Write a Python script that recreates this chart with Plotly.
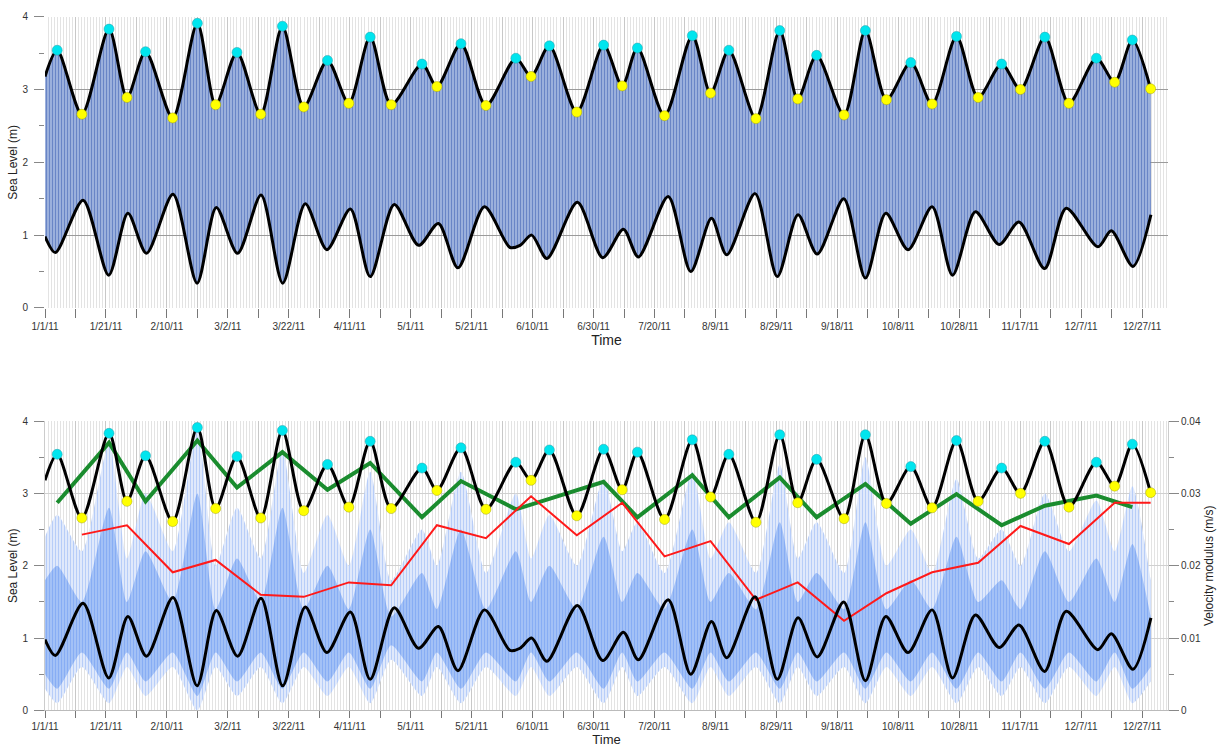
import pandas as pd
import plotly.graph_objects as go

BASE = pd.Timestamp("2011-01-01")

# ---------------- data (days since 1/1/11) ----------------
spring_days = [4.0, 21.0, 33.0, 50.0, 63.0, 77.9, 92.7, 106.7, 123.7, 136.5, 154.5, 165.5, 183.3,
               194.4, 212.4, 224.4, 241.1, 253.2, 269.2, 284.1, 299.1, 313.9, 328.1, 345.0, 356.8]
spring_levels = [3.54, 3.83, 3.52, 3.91, 3.51, 3.87, 3.40, 3.72, 3.35, 3.63, 3.43, 3.60, 3.61,
                 3.57, 3.74, 3.54, 3.81, 3.47, 3.81, 3.37, 3.73, 3.35, 3.72, 3.43, 3.68]
neap_days = [12.1, 26.9, 41.9, 56.0, 70.8, 84.9, 99.7, 113.6, 128.6, 144.7, 159.5, 174.5, 189.4,
             203.3, 218.4, 233.3, 247.0, 262.2, 276.1, 291.1, 306.2, 320.1, 336.0, 351.0, 362.8]
neap_levels = [2.66, 2.89, 2.61, 2.79, 2.66, 2.76, 2.81, 2.79, 3.04, 2.78, 3.18, 2.69, 3.05,
               2.64, 2.95, 2.60, 2.87, 2.65, 2.86, 2.80, 2.89, 3.00, 2.81, 3.10, 3.01]

upper_env_days = [0, 4.0, 12.1, 21.0, 26.9, 33.0, 41.9, 50.0, 56.0, 63.0, 70.8, 77.9, 84.9, 92.7,
                  99.7, 106.7, 113.6, 123.7, 128.6, 136.5, 144.7, 154.5, 159.5, 165.5, 174.5, 183.3,
                  189.4, 194.4, 203.3, 212.4, 218.4, 224.4, 233.3, 241.1, 247.0, 253.2, 262.2, 269.2,
                  276.1, 284.1, 291.1, 299.1, 306.2, 313.9, 320.1, 328.1, 336.0, 345.0, 351.0, 356.8, 362.8]
upper_env_vals = [3.18, 3.54, 2.66, 3.83, 2.89, 3.52, 2.61, 3.91, 2.79, 3.51, 2.66, 3.87, 2.76, 3.40,
                  2.81, 3.72, 2.79, 3.35, 3.04, 3.63, 2.78, 3.43, 3.18, 3.60, 2.69, 3.61,
                  3.05, 3.57, 2.64, 3.74, 2.95, 3.54, 2.60, 3.81, 2.87, 3.47, 2.65, 3.81,
                  2.86, 3.37, 2.80, 3.73, 2.89, 3.35, 3.00, 3.72, 2.81, 3.43, 3.10, 3.68, 3.01]

lower_env_days = [0, 3.4, 12.5, 20.9, 27.2, 33.3, 42.0, 49.9, 56.2, 63.2, 70.9, 78.0, 85.4, 92.5,
                  100.2, 106.7, 114.6, 122.6, 129.1, 135.5, 144.2, 152.6, 155.9, 159.7, 164.7, 174.7,
                  183.0, 189.8, 194.7, 204.5, 211.9, 218.7, 223.7, 233.0, 240.3, 247.1, 253.4, 262.1,
                  269.2, 275.9, 283.2, 291.1, 297.8, 305.3, 313.1, 319.6, 328.0, 335.1, 345.5, 349.9,
                  357.0, 362.9]
lower_env_vals = [0.98, 0.76, 1.48, 0.45, 1.30, 0.75, 1.56, 0.34, 1.38, 0.75, 1.55, 0.34, 1.43, 0.80,
                  1.36, 0.43, 1.42, 0.86, 1.16, 0.55, 1.39, 0.83, 0.86, 1.00, 0.68, 1.45,
                  0.69, 1.08, 0.70, 1.53, 0.50, 1.23, 0.73, 1.57, 0.43, 1.28, 0.74, 1.50,
                  0.41, 1.30, 0.80, 1.39, 0.45, 1.32, 0.87, 1.18, 0.54, 1.37, 0.84, 1.06,
                  0.57, 1.28]

# velocity (m/s)
green_vals = [0.0287, 0.0370, 0.0289, 0.0373, 0.0308, 0.0357, 0.0305, 0.0342, 0.0267, 0.0317, 0.0278,
              0.0293, 0.0316, 0.0267, 0.0325, 0.0267, 0.0322, 0.0267, 0.0313, 0.0258, 0.0299, 0.0256,
              0.0283, 0.0297, 0.0281]
red_vals = [0.0243, 0.0256, 0.0191, 0.0208, 0.0160, 0.0157, 0.0177, 0.0173, 0.0256, 0.0238, 0.0296,
            0.0242, 0.0287, 0.0213, 0.0234, 0.0153, 0.0177, 0.0124, 0.0162, 0.0191, 0.0204, 0.0255,
            0.0230, 0.0287, 0.0287]

vel_days = [0, 4.0, 12.1, 21.0, 26.9, 33.0, 41.9, 50.0, 56.0, 63.0, 70.8, 77.9, 84.9, 92.7,
            99.7, 106.7, 113.6, 123.7, 128.6, 136.5, 144.7, 154.5, 159.5, 165.5, 174.5, 183.3,
            189.4, 194.4, 203.3, 212.4, 218.4, 224.4, 233.3, 241.1, 247.0, 253.2, 262.2, 269.2,
            276.1, 284.1, 291.1, 299.1, 306.2, 313.9, 320.1, 328.1, 336.0, 345.0, 351.0, 356.8, 362.8]
vel_upper = [0.024, 0.027, 0.022, 0.037, 0.021, 0.030, 0.022, 0.039, 0.020, 0.028, 0.021, 0.036, 0.019,
             0.027, 0.020, 0.033, 0.018, 0.025, 0.020, 0.033, 0.019, 0.030, 0.021, 0.027, 0.020, 0.032,
             0.022, 0.026, 0.019, 0.033, 0.021, 0.026, 0.019, 0.034, 0.021, 0.026, 0.019, 0.035,
             0.020, 0.025, 0.019, 0.032, 0.021, 0.025, 0.020, 0.030, 0.022, 0.029, 0.022, 0.031, 0.018]
vel_core_upper = [0.018, 0.020, 0.015, 0.028, 0.015, 0.022, 0.015, 0.030, 0.014, 0.021, 0.015, 0.028,
                  0.014, 0.020, 0.014, 0.025, 0.013, 0.019, 0.014, 0.025, 0.014, 0.022, 0.015, 0.020,
                  0.014, 0.024, 0.015, 0.019, 0.014, 0.025, 0.015, 0.019, 0.014, 0.026, 0.015, 0.019,
                  0.014, 0.026, 0.014, 0.018, 0.014, 0.024, 0.015, 0.018, 0.014, 0.022, 0.015, 0.021,
                  0.015, 0.023, 0.013]
vel_core_lower = [0.005, 0.003, 0.008, 0.003, 0.008, 0.004, 0.008, 0.002, 0.008, 0.004, 0.008, 0.003,
                  0.008, 0.004, 0.008, 0.003, 0.009, 0.004, 0.008, 0.003, 0.008, 0.004, 0.008, 0.004,
                  0.008, 0.003, 0.008, 0.004, 0.008, 0.003, 0.008, 0.004, 0.008, 0.003, 0.008, 0.004,
                  0.008, 0.003, 0.008, 0.004, 0.008, 0.003, 0.008, 0.004, 0.008, 0.003, 0.008, 0.004,
                  0.008, 0.003, 0.006]
vel_lower = [0.003, 0.001, 0.006, 0.001, 0.006, 0.002, 0.006, 0.000, 0.006, 0.002, 0.006, 0.001, 0.006,
             0.002, 0.006, 0.001, 0.007, 0.002, 0.006, 0.001, 0.006, 0.002, 0.006, 0.002, 0.006, 0.001,
             0.006, 0.002, 0.006, 0.001, 0.006, 0.002, 0.006, 0.001, 0.006, 0.002, 0.006, 0.001,
             0.006, 0.002, 0.006, 0.001, 0.006, 0.002, 0.006, 0.001, 0.006, 0.002, 0.006, 0.001, 0.004]

tick_dates = ["2011-01-01", "2011-01-11", "2011-01-21", "2011-01-31", "2011-02-10", "2011-02-20",
              "2011-03-02", "2011-03-12", "2011-03-22", "2011-04-01", "2011-04-11", "2011-04-21",
              "2011-05-01", "2011-05-11", "2011-05-21", "2011-05-31", "2011-06-10", "2011-06-20",
              "2011-06-30", "2011-07-10", "2011-07-20", "2011-07-30", "2011-08-09", "2011-08-19",
              "2011-08-29", "2011-09-08", "2011-09-18", "2011-09-28", "2011-10-08", "2011-10-18",
              "2011-10-28", "2011-11-07", "2011-11-17", "2011-11-27", "2011-12-07", "2011-12-17",
              "2011-12-27"]
tick_labels = ["1/1/11", "", "1/21/11", "", "2/10/11", "", "3/2/11", "", "3/22/11", "", "4/11/11", "",
               "5/1/11", "", "5/21/11", "", "6/10/11", "", "6/30/11", "", "7/20/11", "", "8/9/11", "",
               "8/29/11", "", "9/18/11", "", "10/8/11", "", "10/28/11", "", "11/17/11", "", "12/7/11", "",
               "12/27/11"]


def d(days):
    return [BASE + pd.Timedelta(days=v) for v in days]


FONT = "Liberation Sans, Arial, sans-serif"
fig = go.Figure()

# ---------------- top panel ----------------
fig.add_trace(go.Scatter(x=d(lower_env_days), y=lower_env_vals, mode="lines",
                         line=dict(width=0, shape="spline", smoothing=0.8),
                         xaxis="x", yaxis="y", showlegend=False, hoverinfo="skip"))
fig.add_trace(go.Scatter(x=d(upper_env_days), y=upper_env_vals, mode="lines",
                         line=dict(width=0, shape="spline", smoothing=0.8),
                         fill="tonexty", fillcolor="#4a6cbc",
                         fillpattern=dict(shape="|", fgcolor="#1f47a6", bgcolor="#b3c3e6",
                                          size=3, solidity=0.55),
                         xaxis="x", yaxis="y", showlegend=False, hoverinfo="skip"))
for dd, vv in ((upper_env_days, upper_env_vals), (lower_env_days, lower_env_vals)):
    fig.add_trace(go.Scatter(x=d(dd), y=vv, mode="lines",
                             line=dict(color="black", width=3, shape="spline", smoothing=0.8),
                             xaxis="x", yaxis="y", showlegend=False))
fig.add_trace(go.Scatter(x=d(spring_days), y=spring_levels, mode="markers",
                         marker=dict(color="#00e5ee", size=10, line=dict(color="#2a9fa8", width=0.5)),
                         xaxis="x", yaxis="y", showlegend=False))
fig.add_trace(go.Scatter(x=d(neap_days), y=neap_levels, mode="markers",
                         marker=dict(color="#ffff00", size=10, line=dict(color="#a8a800", width=0.5)),
                         xaxis="x", yaxis="y", showlegend=False))

# ---------------- bottom panel ----------------
fig.add_trace(go.Scatter(x=d(vel_days), y=vel_lower, mode="lines",
                         line=dict(width=0, shape="spline", smoothing=0.6),
                         xaxis="x2", yaxis="y3", showlegend=False, hoverinfo="skip"))
fig.add_trace(go.Scatter(x=d(vel_days), y=vel_upper, mode="lines",
                         line=dict(width=0, shape="spline", smoothing=0.6),
                         fill="tonexty", fillcolor="#b5cdf8",
                         fillpattern=dict(shape="|", fgcolor="#86acf4", bgcolor="#e8effc",
                                          size=3, solidity=0.45),
                         xaxis="x2", yaxis="y3", showlegend=False, hoverinfo="skip"))
fig.add_trace(go.Scatter(x=d(vel_days), y=vel_core_lower, mode="lines",
                         line=dict(width=0, shape="spline", smoothing=0.6),
                         xaxis="x2", yaxis="y3", showlegend=False, hoverinfo="skip"))
fig.add_trace(go.Scatter(x=d(vel_days), y=vel_core_upper, mode="lines",
                         line=dict(width=0, shape="spline", smoothing=0.6),
                         fill="tonexty", fillcolor="#7aa5f3",
                         fillpattern=dict(shape="|", fgcolor="#5a8ef0", bgcolor="#b5cdf8",
                                          size=3, solidity=0.6),
                         xaxis="x2", yaxis="y3", showlegend=False, hoverinfo="skip"))
fig.add_trace(go.Scatter(x=d(spring_days), y=green_vals, mode="lines",
                         line=dict(color="#1a8c2e", width=4),
                         xaxis="x2", yaxis="y3", showlegend=False))
fig.add_trace(go.Scatter(x=d(neap_days), y=red_vals, mode="lines",
                         line=dict(color="#ff1a1a", width=2),
                         xaxis="x2", yaxis="y3", showlegend=False))
for dd, vv in ((upper_env_days, upper_env_vals), (lower_env_days, lower_env_vals)):
    fig.add_trace(go.Scatter(x=d(dd), y=vv, mode="lines",
                             line=dict(color="black", width=3, shape="spline", smoothing=0.8),
                             xaxis="x2", yaxis="y4", showlegend=False))
fig.add_trace(go.Scatter(x=d(spring_days), y=spring_levels, mode="markers",
                         marker=dict(color="#00e5ee", size=10, line=dict(color="#2a9fa8", width=0.5)),
                         xaxis="x2", yaxis="y4", showlegend=False))
fig.add_trace(go.Scatter(x=d(neap_days), y=neap_levels, mode="markers",
                         marker=dict(color="#ffff00", size=10, line=dict(color="#a8a800", width=0.5)),
                         xaxis="x2", yaxis="y4", showlegend=False))

xrange = ["2011-01-01", "2012-01-04 12:00"]
tickfont = dict(family=FONT, size=10, color="#333333")


def xaxis_cfg(anchor, showline, ticklen, title_size, standoff):
    return dict(anchor=anchor, domain=[0, 1], range=xrange, tickmode="array",
                tickvals=tick_dates, ticktext=tick_labels, ticks="outside", ticklen=ticklen,
                tickcolor="#777777", tickwidth=1, tickfont=tickfont,
                showgrid=True, gridcolor="#c8c8c8", gridwidth=1,
                minor=dict(tickmode="linear", tick0="2011-01-01", dtick=86400000,
                           showgrid=True, gridcolor="#e3e3e3", gridwidth=1, ticks=""),
                showline=showline, linecolor="#bbbbbb", zeroline=False,
                title=dict(text="Time", font=dict(family=FONT, size=title_size, color="#222222"),
                           standoff=standoff),
                automargin=False)


ytitle_font = dict(family=FONT, size=12, color="#222222")
fig.update_layout(
    width=1217, height=747,
    margin=dict(l=45, r=49, t=0, b=0),
    paper_bgcolor="white", plot_bgcolor="white",
    font=dict(family=FONT),
    xaxis=xaxis_cfg("y", False, 9, 14, 1),
    xaxis2=xaxis_cfg("y3", True, 7, 13, 4),
    yaxis=dict(domain=[0.5878, 0.9776], range=[0, 4], dtick=1, ticks="outside", ticklen=10,
               ticklabelstandoff=4,
               tickcolor="#888888", tickfont=tickfont, showgrid=True, gridcolor="#9a9a9a",
               zeroline=False, showline=False, anchor="x",
               minor=dict(dtick=0.5, ticks="outside", ticklen=5, tickcolor="#888888", showgrid=False),
               title=dict(text="Sea Level (m)", font=ytitle_font, standoff=2), automargin=False),
    yaxis3=dict(domain=[0.0489, 0.4364], range=[0, 0.04], dtick=0.01, side="right", anchor="x2",
                ticks="outside", ticklen=10, tickcolor="#888888", tickfont=tickfont,
                showgrid=True, gridcolor="#d0d0d0", zeroline=False, showline=True, linecolor="#cccccc",
                minor=dict(dtick=0.005, ticks="outside", ticklen=5, tickcolor="#888888", showgrid=False),
                title=dict(text="Velocity modulus (m/s)", font=ytitle_font, standoff=4),
                automargin=False),
    yaxis4=dict(overlaying="y3", side="left", range=[0, 4], dtick=1, anchor="x2",
                ticks="outside", ticklen=10, ticklabelstandoff=4,
                tickcolor="#888888", tickfont=tickfont,
                showgrid=False, zeroline=False, showline=True, linecolor="#cccccc",
                minor=dict(dtick=0.5, ticks="outside", ticklen=5, tickcolor="#888888", showgrid=False),
                title=dict(text="Sea Level (m)", font=ytitle_font, standoff=2), automargin=False),
)

fig.write_html("out.html", config={"displayModeBar": False},
               post_script="document.body.style.margin='0px';")
